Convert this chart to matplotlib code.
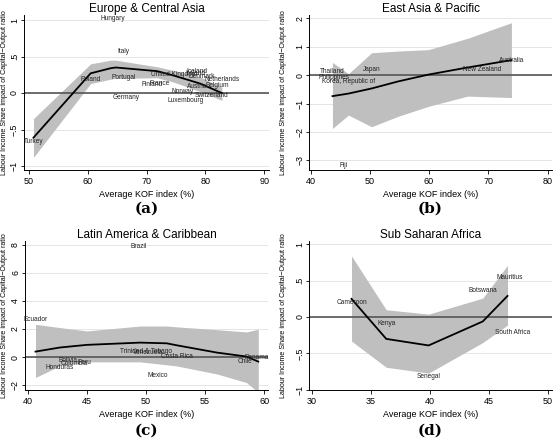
import matplotlib.pyplot as plt

plt.rcParams['font.family'] = ['Liberation Sans', 'DejaVu Sans']

# Europe & Central Asia
eca_x = [50.8, 60.5, 63.9, 64.8, 71.8, 74.6, 79.1, 82.8]
eca_y = [-0.61, 0.27, 0.34, 0.35, 0.30, 0.24, 0.13, 0.0]
eca_hi = [-0.35, 0.40, 0.45, 0.45, 0.36, 0.31, 0.22, 0.08]
eca_lo = [-0.88, 0.13, 0.19, 0.20, 0.21, 0.15, 0.02, -0.10]
eca_names = ["Hungary", "Italy", "Poland", "Portugal", "Germany", "Finland", "France",
             "Luxembourg", "Norway", "United Kingdom", "Ireland", "Iceland", "Denmark",
             "Netherlands", "Belgium", "Austria", "Switzerland", "Turkey"]
eca_lx = [64.2, 66.0, 60.5, 66.2, 66.5, 71.0, 72.3, 76.7, 76.2, 74.6, 78.3, 78.5, 79.3,
          82.8, 82.0, 78.6, 81.0, 50.8]
eca_ly = [1.02, 0.57, 0.18, 0.21, -0.06, 0.12, 0.13, -0.10, 0.02, 0.26, 0.27, 0.29, 0.23,
          0.18, 0.10, 0.09, -0.03, -0.67]

# East Asia & Pacific
eap_x = [43.7, 46.4, 50.3, 54.8, 59.9, 66.5, 73.9]
eap_y = [-0.74, -0.65, -0.47, -0.22, 0.02, 0.27, 0.53]
eap_hi = [0.45, 0.05, 0.79, 0.85, 0.90, 1.30, 1.85]
eap_lo = [-1.88, -1.41, -1.82, -1.45, -1.10, -0.74, -0.79]
eap_names = ["Thailand", "Philippines", "Korea, Republic of", "Japan", "New Zealand",
             "Australia", "Fiji"]
eap_lx = [43.7, 44.0, 46.4, 50.4, 68.9, 74.0, 45.5]
eap_ly = [0.12, -0.10, -0.24, 0.21, 0.21, 0.53, -3.18]

# Latin America & Caribbean
lac_x = [40.65, 42.7, 45.0, 49.5, 51.75, 52.6, 56.0, 58.5, 59.5]
lac_y = [0.39, 0.68, 0.87, 1.03, 0.98, 0.84, 0.32, 0.04, -0.32]
lac_hi = [2.33, 2.10, 1.86, 2.21, 2.21, 2.15, 1.95, 1.79, 1.98]
lac_lo = [-1.45, -0.63, -0.34, -0.34, -0.55, -0.63, -1.20, -1.81, -2.52]
lac_names = ["Brazil", "Ecuador", "Trinidad & Tobago", "Venezuela", "Costa Rica", "Mexico",
             "Panama", "Chile", "Bolivia", "Colombia", "Peru", "Honduras"]
lac_lx = [49.4, 40.65, 50.0, 50.2, 52.6, 51.0, 59.4, 58.4, 43.4, 43.9, 44.8, 42.7]
lac_ly = [7.9, 2.7, 0.37, 0.35, 0.04, -1.34, 0.0, -0.34, -0.22, -0.45, -0.39, -0.77]

# Sub Saharan Africa
ssa_x = [33.35, 36.3, 39.9, 44.5, 46.6]
ssa_y = [0.25, -0.30, -0.39, -0.06, 0.29]
ssa_hi = [0.84, 0.10, 0.04, 0.26, 0.71]
ssa_lo = [-0.33, -0.69, -0.77, -0.35, -0.11]
ssa_names = ["Cameroon", "Kenya", "Senegal", "Botswana", "Mauritius", "South Africa"]
ssa_lx = [33.35, 36.3, 39.9, 44.5, 46.8, 47.0]
ssa_ly = [0.20, -0.09, -0.82, 0.37, 0.55, -0.21]


def panel(rect, title, letter, letter_y, ylab_x, x, y, lo, hi, lx, ly, names,
          xlim, ylim, xt, yt, ytl):
    ax = fig.add_axes(rect)
    for v in yt:
        ax.axhline(v, color='#e0e0e0', lw=0.6, zorder=0)
    ax.fill_between(x, lo, hi, color='#bfbfbf', lw=0, zorder=1)
    ax.axhline(0, color='#555555', lw=1.2, zorder=2)
    ax.plot(x, y, color='black', lw=1.3, zorder=3)
    for n, a, b in zip(names, lx, ly):
        ax.text(a, b, n, fontsize=4.7, ha='center', va='center', color='#222222', zorder=4)
    ax.set_xlim(*xlim)
    ax.set_ylim(*ylim)
    ax.set_xticks(xt)
    ax.set_xticklabels([str(v) for v in xt], fontsize=6.5)
    ax.set_yticks(yt)
    ax.set_yticklabels(ytl, fontsize=6.3, rotation=90, va='center')
    ax.spines['top'].set_visible(False)
    ax.spines['right'].set_visible(False)
    ax.spines['left'].set_linewidth(0.7)
    ax.spines['bottom'].set_linewidth(0.7)
    ax.tick_params(axis='x', length=3, width=0.6, pad=2)
    ax.tick_params(axis='y', length=2.5, width=0.6, pad=1)
    ax.set_title(title, fontsize=8.5, pad=2.5)
    ax.set_xlabel("Average KOF index (%)", fontsize=6.5, labelpad=3)
    ax.set_ylabel("Labour Income Share impact of Capital\u2212Output ratio", fontsize=5.1)
    ax.yaxis.label.set_va('center')
    ax.yaxis.set_label_coords(ylab_x, 0.5)
    fig.text(rect[0] + rect[2] / 2, letter_y, letter, ha='center', va='center',
             fontsize=11, fontweight='bold', family='DejaVu Serif')
    return ax


fig = plt.figure(figsize=(5.53, 4.43), dpi=100)

panel([0.043, 0.616, 0.444, 0.350], "Europe & Central Asia", "(a)", 0.530, -0.077,
      eca_x, eca_y, eca_lo, eca_hi, eca_lx, eca_ly, eca_names,
      (49.15, 90.85), (-1.055, 1.068), [50, 60, 70, 80, 90],
      [-1, -0.5, 0, 0.5, 1], ["\u22121", "\u2212.5", "0", ".5", "1"])

panel([0.559, 0.616, 0.439, 0.350], "East Asia & Pacific", "(b)", 0.530, -0.105,
      eap_x, eap_y, eap_lo, eap_hi, eap_lx, eap_ly, eap_names,
      (39.76, 80.73), (-3.35, 2.12), [40, 50, 60, 70, 80],
      [-3, -2, -1, 0, 1, 2], ["\u22123", "\u22122", "\u22121", "0", "1", "2"])

panel([0.045, 0.120, 0.440, 0.336], "Latin America & Caribbean", "(c)", 0.027, -0.082,
      lac_x, lac_y, lac_lo, lac_hi, lac_lx, lac_ly, lac_names,
      (39.75, 60.34), (-2.33, 8.26), [40, 45, 50, 55, 60],
      [-2, 0, 2, 4, 6, 8], ["\u22122", "0", "2", "4", "6", "8"])

panel([0.559, 0.120, 0.439, 0.336], "Sub Saharan Africa", "(d)", 0.027, -0.105,
      ssa_x, ssa_y, ssa_lo, ssa_hi, ssa_lx, ssa_ly, ssa_names,
      (29.75, 50.37), (-0.97, 1.045), [30, 35, 40, 45, 50],
      [-1, -0.5, 0, 0.5, 1], ["\u22121", "\u2212.5", "0", ".5", "1"])

fig.savefig('out.png', dpi=100)
